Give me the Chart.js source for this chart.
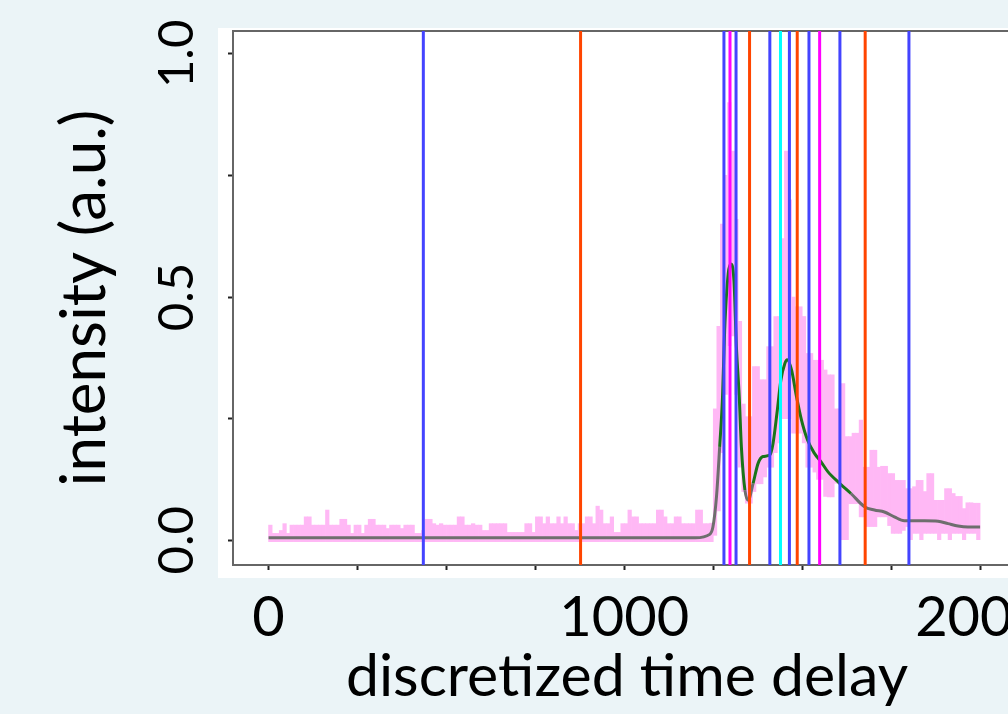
<!DOCTYPE html>
<html>
<head>
<meta charset="utf-8">
<script src="https://cdn.jsdelivr.net/npm/chart.js@4.4.1/dist/chart.umd.min.js"></script>
<style>
  html, body { margin: 0; padding: 0; background: #ebf4f7; overflow: hidden; }
  #wrap { width: 1040px; height: 714px; }
</style>
</head>
<body>
<div id="wrap"><canvas id="chart"></canvas></div>
<script>
// axis ranges (the original figure is cropped on the right)
const X_MIN = -100, X_MAX = 2115;
const Y_MIN = -0.051, Y_MAX = 1.047;
const xTicks = [0, 250, 500, 750, 1000, 1250, 1500, 1750, 2000];
const xLabels = ["0", "", "", "", "1000", "", "", "", "2000"];

// raw signal envelope, one bin per 10 time steps starting at 0
const BIN_START = 5, BIN_WIDTH = 10;
const pinkHigh = [
  0.031, 0.014, 0.014, 0.02, 0.034, 0.014, 0.031, 0.031, 0.031, 0.031,
  0.048, 0.048, 0.031, 0.031, 0.031, 0.031, 0.062, 0.031, 0.031, 0.031,
  0.043, 0.043, 0.031, 0.014, 0.031, 0.031, 0.014, 0.031, 0.043, 0.043,
  0.031, 0.031, 0.031, 0.024, 0.031, 0.031, 0.031, 0.024, 0.031, 0.031,
  0.031, 0.014, 0.014, 0.02, 0.043, 0.043, 0.034, 0.031, 0.034, 0.031,
  0.031, 0.031, 0.031, 0.048, 0.048, 0.031, 0.031, 0.034, 0.031, 0.031,
  0.02, 0.02, 0.034, 0.034, 0.034, 0.034, 0.034, 0.016, 0.016, 0.016,
  0.016, 0.016, 0.034, 0.034, 0.016, 0.048, 0.048, 0.034, 0.048, 0.034,
  0.034, 0.048, 0.034, 0.048, 0.034, 0.034, 0.02, 0.034, 0.034, 0.048,
  0.048, 0.034, 0.07, 0.062, 0.034, 0.034, 0.048, 0.016, 0.016, 0.034,
  0.034, 0.062, 0.048, 0.048, 0.034, 0.034, 0.034, 0.034, 0.034, 0.062,
  0.062, 0.048, 0.034, 0.034, 0.048, 0.048, 0.034, 0.034, 0.034, 0.034,
  0.062, 0.062, 0.034, 0.034, 0.035, 0.27, 0.44, 0.65, 0.75, 0.9,
  0.8, 0.66, 0.45, 0.28, 0.254, 0.254, 0.357, 0.357, 0.33, 0.33,
  0.398, 0.398, 0.46, 0.46, 0.62, 0.8, 0.7, 0.5, 0.48, 0.48,
  0.46, 0.384, 0.384, 0.37, 0.37, 0.37, 0.35, 0.34, 0.34, 0.27,
  0.27, 0.322, 0.213, 0.213, 0.22, 0.22, 0.247, 0.15, 0.15, 0.185,
  0.185, 0.15, 0.152, 0.152, 0.137, 0.137, 0.123, 0.123, 0.123, 0.106,
  0.106, 0.11, 0.123, 0.123, 0.1, 0.137, 0.137, 0.082, 0.082, 0.082,
  0.106, 0.106, 0.096, 0.09, 0.09, 0.065, 0.077, 0.077, 0.076, 0.076
];
const pinkLow = [
  -0.003, -0.003, -0.003, -0.003, -0.003, -0.003, -0.003, -0.003, -0.003, -0.003,
  -0.003, -0.003, -0.003, -0.003, -0.003, -0.003, -0.003, -0.003, -0.003, -0.003,
  -0.003, -0.003, -0.003, -0.003, -0.003, -0.003, -0.003, -0.003, -0.003, -0.003,
  -0.003, -0.003, -0.003, -0.003, -0.003, -0.003, -0.003, -0.003, -0.003, -0.003,
  -0.003, -0.003, -0.003, -0.003, -0.003, -0.003, -0.003, -0.003, -0.003, -0.003,
  -0.003, -0.003, -0.003, -0.003, -0.003, -0.003, -0.003, -0.003, -0.003, -0.003,
  -0.003, -0.003, -0.003, -0.003, -0.003, -0.003, -0.003, -0.003, -0.003, -0.003,
  -0.003, -0.003, -0.003, -0.003, -0.003, -0.003, -0.003, -0.003, -0.003, -0.003,
  -0.003, -0.003, -0.003, -0.003, -0.003, -0.003, -0.003, -0.003, -0.003, -0.003,
  -0.003, -0.003, -0.003, -0.003, -0.003, -0.003, -0.003, -0.003, -0.003, -0.003,
  -0.003, -0.003, -0.003, -0.003, -0.003, -0.003, -0.003, -0.003, -0.003, -0.003,
  -0.003, -0.003, -0.003, -0.003, -0.003, -0.003, -0.003, -0.003, -0.003, -0.003,
  -0.003, -0.003, -0.003, -0.003, -0.003, 0.01, 0.06, 0.18, 0.3, 0.4,
  0.42, 0.3, 0.15, 0.1, 0.076, 0.076, 0.1, 0.116, 0.116, 0.13,
  0.15, 0.15, 0.18, 0.2, 0.25, 0.25, 0.25, 0.22, 0.22, 0.22,
  0.2, 0.15, 0.15, 0.14, 0.125, 0.125, 0.09, 0.089, 0.089, 0.117,
  0.117, 0.0, 0.0, 0.075, 0.075, 0.075, 0.048, 0.048, 0.028, 0.028,
  0.028, 0.048, 0.048, 0.048, 0.03, 0.014, 0.014, 0.014, 0.02, 0.028,
  0.0, 0.014, 0.014, 0.0, 0.014, 0.014, 0.014, 0.014, 0.0, 0.014,
  0.014, 0.0, 0.014, 0.014, 0.014, 0.0, 0.014, 0.014, 0.014, 0.0
];

// smoothed signal
const smoothX = [0, 1200, 1240, 1249, 1259, 1268, 1276, 1282, 1292, 1299,
  1308, 1315, 1323, 1329, 1339, 1348, 1362, 1376, 1390, 1409,
  1418, 1429, 1440, 1451, 1458, 1470, 1484, 1498, 1515, 1534,
  1553, 1572, 1605, 1637, 1675, 1703, 1731, 1759, 1787, 1844,
  1882, 1910, 1938, 1966, 2000];
const smoothY = [0.005, 0.005, 0.012, 0.027, 0.089, 0.192, 0.295, 0.432, 0.548, 0.568,
  0.535, 0.398, 0.295, 0.192, 0.103, 0.082, 0.117, 0.158, 0.172, 0.175,
  0.199, 0.261, 0.329, 0.363, 0.371, 0.350, 0.295, 0.247, 0.206, 0.179,
  0.161, 0.141, 0.117, 0.096, 0.069, 0.062, 0.058, 0.048, 0.040, 0.040,
  0.039, 0.034, 0.029, 0.027, 0.027];

// vertical markers
const blueLines = [435, 1280, 1314, 1409, 1464, 1519, 1606, 1800];
const magentaLines = [1297, 1549];
const orangeLines = [877, 1352, 1486, 1677];
const cyanLines = [1439];

function markerData(list) {
  const pts = [];
  list.forEach(v => {
    pts.push({x: v, y: Y_MIN}, {x: v, y: Y_MAX}, {x: v, y: null});
  });
  return pts;
}

function markerSet(list, color) {
  return {
    type: "line",
    data: markerData(list),
    borderColor: color,
    borderWidth: 3,
    pointRadius: 0,
    spanGaps: false,
    tension: 0
  };
}

const GREEN = "#1a751a";
const GRAY = "#6e6e6e";

const panel = {
  id: "panel",
  beforeDraw(chart) {
    const {ctx, chartArea: a} = chart;
    ctx.save();
    ctx.fillStyle = "#ffffff";
    ctx.fillRect(a.left - 15, a.top - 3, chart.width - a.left + 15, a.bottom - a.top + 16);
    ctx.restore();
  }
};

new Chart(document.getElementById("chart"), {
  type: "line",
  data: {
    datasets: [
      markerSet(blueLines, "#4444ff"),
      markerSet(magentaLines, "#ff00ff"),
      markerSet(orangeLines, "#ff4500"),
      markerSet(cyanLines, "#00ffff"),
      {
        type: "line",
        data: smoothX.map((x, i) => ({x, y: smoothY[i]})),
        borderColor: GRAY,
        borderWidth: 3,
        pointRadius: 0,
        cubicInterpolationMode: "monotone",
        segment: {
          borderColor: c => (c.p0.parsed.y > 0.09 && c.p1.parsed.y > 0.09) ? GREEN : GRAY
        }
      },
      {
        type: "bar",
        data: pinkHigh.map((h, i) => ({x: BIN_START + i * BIN_WIDTH, y: [pinkLow[i], h]})),
        backgroundColor: "#ffb8f5",
        borderWidth: 0,
        barPercentage: 1,
        categoryPercentage: 1,
        grouped: false
      }
    ]
  },
  options: {
    responsive: true,
    maintainAspectRatio: false,
    animation: false,
    layout: {padding: {left: 0, right: 19, top: 31, bottom: 0}},
    plugins: {legend: {display: false}, tooltip: {enabled: false}},
    scales: {
      x: {
        type: "linear",
        min: X_MIN,
        max: X_MAX,
        offset: false,
        afterBuildTicks: s => { s.ticks = xTicks.map(v => ({value: v})); },
        afterFit: s => { s.height = 149; s.paddingLeft = 0; s.paddingRight = 0; },
        border: {display: true, color: "#666", width: 2},
        grid: {offset: false, drawOnChartArea: false, drawTicks: true, tickLength: 5, tickColor: "#222", tickWidth: 2},
        ticks: {
          autoSkip: false,
          maxRotation: 0,
          padding: 14,
          color: "#000",
          font: {family: "'Liberation Sans Narrow', Lato, sans-serif", size: 56},
          callback: (v, i) => xLabels[i]
        },
        title: {
          display: true,
          text: "discretized time delay",
          color: "#000",
          font: {family: "Lato", size: 59},
          padding: {top: 0, bottom: 2}
        }
      },
      xTop: {
        type: "linear",
        position: "top",
        min: X_MIN,
        max: X_MAX,
        afterFit: s => { s.height = 0; s.paddingLeft = 0; s.paddingRight = 0; },
        grid: {display: false},
        ticks: {display: false},
        border: {display: true, color: "#666", width: 2}
      },
      y: {
        min: Y_MIN,
        max: Y_MAX,
        afterFit: s => { s.width = 233; s.paddingTop = 0; s.paddingBottom = 0; },
        border: {display: true, color: "#666", width: 2},
        grid: {drawOnChartArea: false, drawTicks: true, tickLength: 5, tickColor: "#222", tickWidth: 2},
        ticks: {
          stepSize: 0.125,
          includeBounds: false,
          minRotation: 90,
          maxRotation: 90,
          crossAlign: "center",
          padding: 17,
          color: "#000",
          font: {family: "Lato", size: 49},
          callback: v => (Math.abs(v * 2 - Math.round(v * 2)) < 1e-6 ? v.toFixed(1) : "")
        },
        title: {
          display: true,
          text: "intensity (a.u.)",
          color: "#000",
          font: {family: "Lato", size: 62},
          padding: {top: 48, bottom: 0}
        }
      }
    }
  },
  plugins: [panel]
});
</script>
</body>
</html>
